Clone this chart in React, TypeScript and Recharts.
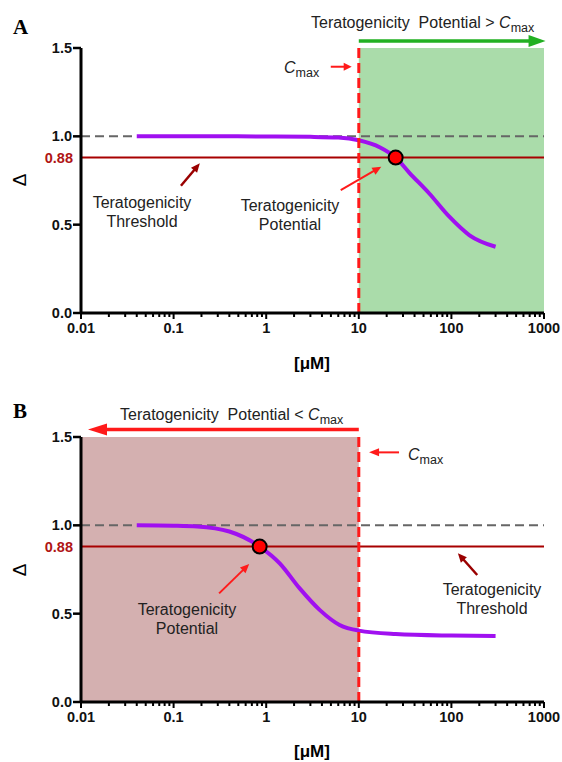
import React from "react";
import {
  ComposedChart,
  Line,
  XAxis,
  YAxis,
  ReferenceArea,
  ReferenceLine,
  ReferenceDot,
} from "recharts";

const FONT = "Arial, 'Liberation Sans', Helvetica, sans-serif";

// axis ticks
const majorTicks = [0.01, 0.1, 1, 10, 100, 1000];
const majorLabels = ["0.01", "0.1", "1", "10", "100", "1000"];
const minorSteps = [2, 3, 4, 5, 6, 7, 8, 9];
const xTicks = [
  ...majorTicks,
  ...majorTicks.slice(0, -1).flatMap((d) => minorSteps.map((m) => d * m)),
];
const yTicks = [0, 0.5, 0.88, 1, 1.5];
const yLabels = ["0.0", "0.5", "0.88", "1.0", "1.5"];

// reference levels
const threshold = 0.88;
const control = 1.0;
const cmax = 10;

// panel A: response curve (conc in uM, delta)
const concA = [0.04, 0.1, 0.3, 1, 3, 6, 10, 17, 25, 35, 58, 95, 157, 300];
const deltaA = [1.0, 1.0, 1.0, 0.999, 0.997, 0.993, 0.978, 0.937, 0.88, 0.795, 0.675, 0.545, 0.44, 0.375];
const potentialA = 25;

// panel B: response curve
const concB = [0.04, 0.1, 0.18, 0.4, 0.85, 1.4, 2.3, 3.8, 6.2, 10, 25, 100, 300];
const deltaB = [1.0, 0.998, 0.994, 0.965, 0.88, 0.785, 0.643, 0.52, 0.436, 0.404, 0.385, 0.376, 0.373];
const potentialB = 0.85;

const RED = "#ff1a1a";
const DARK_RED = "#9a0000";
const PURPLE = "#a010f0";

type Arrow = {
  from: [number, number];
  to: [number, number];
  color: string;
  width: number;
  head: [number, number];
};

const arrowsA: Arrow[] = [
  { from: [10, 1.539], to: [1040, 1.539], color: "#22b022", width: 3.5, head: [17, 12] },
  { from: [4.98, 1.394], to: [8.38, 1.394], color: RED, width: 2, head: [8, 8] },
  { from: [0.12, 0.72], to: [0.192, 0.847], color: DARK_RED, width: 2.5, head: [9, 8] },
  { from: [6.38, 0.696], to: [17.5, 0.828], color: RED, width: 2, head: [9, 8] },
];

const arrowsB: Arrow[] = [
  { from: [10, 1.543], to: [0.0119, 1.543], color: RED, width: 3.5, head: [19, 12] },
  { from: [27.2, 1.413], to: [12.9, 1.413], color: RED, width: 2, head: [10, 8] },
  { from: [0.31, 0.615], to: [0.655, 0.781], color: RED, width: 2, head: [9, 8] },
  { from: [190, 0.719], to: [117.5, 0.842], color: DARK_RED, width: 2.5, head: [9, 8] },
];

const arrowShape = (a: Arrow) => (props: any) => {
  const { x1, y1, x2, y2 } = props;
  const dx = x2 - x1;
  const dy = y2 - y1;
  const len = Math.hypot(dx, dy) || 1;
  const ux = dx / len;
  const uy = dy / len;
  const bx = x2 - ux * a.head[0];
  const by = y2 - uy * a.head[0];
  const px = (-uy * a.head[1]) / 2;
  const py = (ux * a.head[1]) / 2;
  return (
    <g>
      <line x1={x1} y1={y1} x2={bx + ux} y2={by + uy} stroke={a.color} strokeWidth={a.width} />
      <polygon
        points={`${x2},${y2} ${bx + px},${by + py} ${bx - px},${by - py}`}
        fill={a.color}
      />
    </g>
  );
};

const XTick = (props: any) => {
  const { x, y, payload } = props;
  const i = majorTicks.indexOf(payload.value);
  const major = i >= 0;
  return (
    <g>
      <line x1={x} x2={x} y1={y} y2={y + (major ? 6 : 4)} stroke="#000" strokeWidth={2} />
      {major && (
        <text
          x={x}
          y={y + 20}
          textAnchor="middle"
          fontFamily={FONT}
          fontWeight="bold"
          fontSize={14.5}
          fill="#111"
        >
          {majorLabels[i]}
        </text>
      )}
    </g>
  );
};

const YTick = (props: any) => {
  const { x, y, payload } = props;
  const i = yTicks.indexOf(payload.value);
  const isThreshold = payload.value === threshold;
  return (
    <g>
      {!isThreshold && (
        <line x1={x - 8} x2={x} y1={y} y2={y} stroke="#000" strokeWidth={2.5} />
      )}
      <text
        x={isThreshold ? x - 8 : x - 9}
        y={y + 5}
        textAnchor="end"
        fontFamily={FONT}
        fontWeight="bold"
        fontSize={14.5}
        fill={isThreshold ? "#b01515" : "#111"}
      >
        {yLabels[i]}
      </text>
    </g>
  );
};

type PanelProps = {
  conc: number[];
  delta: number[];
  potential: number;
  region: [number, number];
  regionFill: string;
  arrows: Arrow[];
  top: number;
  bottom: number;
};

function Panel({ conc, delta, potential, region, regionFill, arrows, top, bottom }: PanelProps) {
  const rows = conc.map((c, i) => ({ conc: c, delta: delta[i] }));
  return (
    <ComposedChart
      width={562}
      height={381}
      data={rows}
      margin={{ top, right: 18, bottom, left: 21 }}
    >
      <ReferenceArea
        x1={region[0]}
        x2={region[1]}
        y1={0}
        y2={1.5}
        fill={regionFill}
        fillOpacity={1}
        stroke="none"
      />
      <XAxis
        dataKey="conc"
        type="number"
        scale="log"
        domain={[0.01, 1000]}
        allowDataOverflow
        ticks={xTicks}
        interval={0}
        height={30}
        tickSize={0}
        tickMargin={0}
        tickLine={false}
        tick={<XTick />}
        axisLine={{ stroke: "#000", strokeWidth: 3 }}
      />
      <YAxis
        type="number"
        domain={[0, 1.5]}
        ticks={yTicks}
        interval={0}
        width={60}
        tickSize={0}
        tickMargin={0}
        tickLine={false}
        tick={<YTick />}
        axisLine={{ stroke: "#000", strokeWidth: 3 }}
      />
      <ReferenceLine y={control} stroke="#666" strokeWidth={2} strokeDasharray="9 5" />
      <ReferenceLine y={threshold} stroke="#a80000" strokeWidth={2} />
      <Line
        type="monotone"
        dataKey="delta"
        stroke={PURPLE}
        strokeWidth={4}
        dot={false}
        isAnimationActive={false}
      />
      <ReferenceLine x={cmax} stroke={RED} strokeWidth={3} strokeDasharray="10 5" />
      <ReferenceDot
        x={potential}
        y={threshold}
        r={7}
        fill="#ff0000"
        stroke="#000"
        strokeWidth={2}
      />
      {arrows.map((a, i) => (
        <ReferenceLine
          key={i}
          segment={[
            { x: a.from[0], y: a.from[1] },
            { x: a.to[0], y: a.to[1] },
          ]}
          ifOverflow="visible"
          shape={arrowShape(a)}
        />
      ))}
    </ComposedChart>
  );
}

const txt = { fontFamily: FONT, fill: "#222", fontSize: 16 } as const;

function Cmax({ x, y }: { x: number; y: number }) {
  return (
    <text x={x} y={y} {...txt}>
      <tspan fontStyle="italic">C</tspan>
      <tspan fontSize={12.5} dy={4}>max</tspan>
    </text>
  );
}

function TwoLine({ x, y, a, b }: { x: number; y: number; a: string; b: string }) {
  return (
    <text x={x} y={y} textAnchor="middle" {...txt}>
      <tspan x={x}>{a}</tspan>
      <tspan x={x} dy={19}>{b}</tspan>
    </text>
  );
}

function Overlay() {
  return (
    <svg
      width={562}
      height={762}
      style={{ position: "absolute", left: 0, top: 0, pointerEvents: "none" }}
    >
      {/* panel A */}
      <text x={13} y={34} fontFamily="'Times New Roman', 'Liberation Serif', serif" fontWeight="bold" fontSize={21}>A</text>
      <text x={20} y={186} transform="rotate(-90 20 180)" textAnchor="middle" fontFamily={FONT} fontSize={19}>Δ</text>
      <text x={311} y={28} {...txt} style={{ whiteSpace: "pre" }}>
        {"Teratogenicity  Potential > "}
        <tspan fontStyle="italic">C</tspan>
        <tspan fontSize={12.5} dy={4}>max</tspan>
      </text>
      <Cmax x={284} y={73} />
      <TwoLine x={142} y={207.5} a="Teratogenicity" b="Threshold" />
      <TwoLine x={290} y={211} a="Teratogenicity" b="Potential" />
      <text x={312} y={369} textAnchor="middle" fontFamily={FONT} fontWeight="bold" fontSize={17}>[μM]</text>

      {/* panel B */}
      <text x={13} y={418} fontFamily="'Times New Roman', 'Liberation Serif', serif" fontWeight="bold" fontSize={21}>B</text>
      <text x={20} y={576} transform="rotate(-90 20 570)" textAnchor="middle" fontFamily={FONT} fontSize={19}>Δ</text>
      <text x={120} y={420} {...txt} style={{ whiteSpace: "pre" }}>
        {"Teratogenicity  Potential < "}
        <tspan fontStyle="italic">C</tspan>
        <tspan fontSize={12.5} dy={4}>max</tspan>
      </text>
      <Cmax x={408} y={460} />
      <TwoLine x={187} y={615} a="Teratogenicity" b="Potential" />
      <TwoLine x={492} y={595} a="Teratogenicity" b="Threshold" />
      <text x={312} y={757} textAnchor="middle" fontFamily={FONT} fontWeight="bold" fontSize={17}>[μM]</text>
    </svg>
  );
}

export default function App() {
  return (
    <div style={{ position: "absolute", left: 0, top: 0, width: 562, height: 762, background: "#fff" }}>
      <Panel
        conc={concA}
        delta={deltaA}
        potential={potentialA}
        region={[cmax, 1000]}
        regionFill="#aadcaa"
        arrows={arrowsA}
        top={48}
        bottom={38}
      />
      <Panel
        conc={concB}
        delta={deltaB}
        potential={potentialB}
        region={[0.01, cmax]}
        regionFill="#d4b0b0"
        arrows={arrowsB}
        top={56}
        bottom={30}
      />
      <Overlay />
    </div>
  );
}
